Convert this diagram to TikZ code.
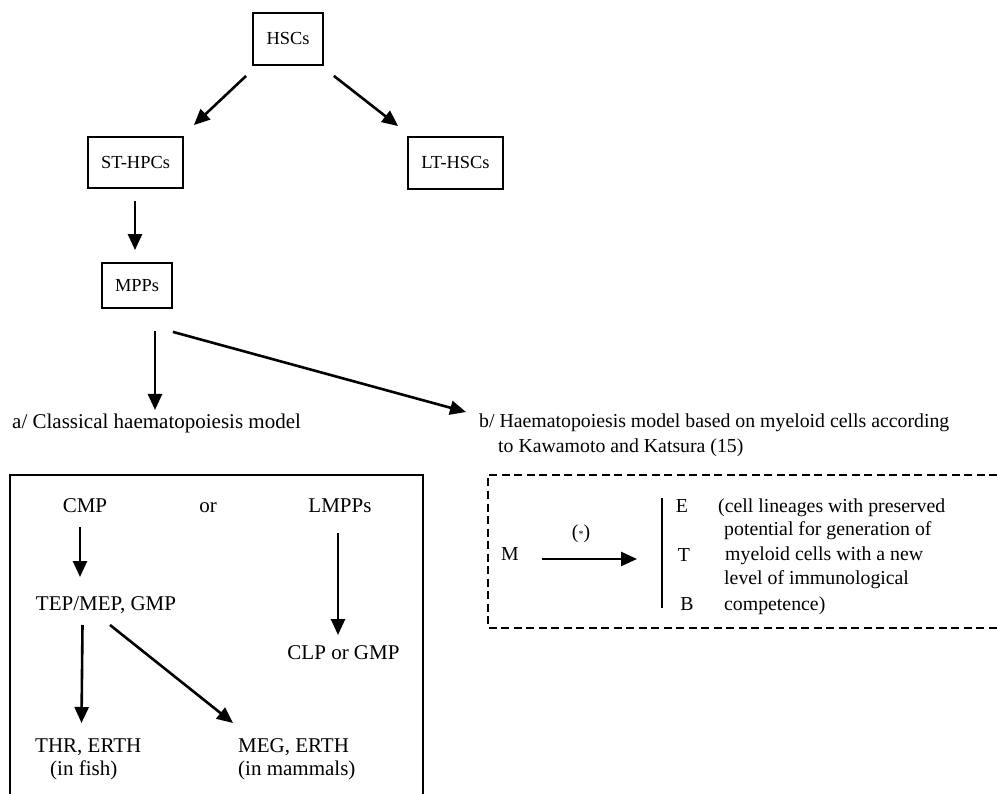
\documentclass[tikz,border=0pt]{standalone}
\usepackage{fontspec}
\setmainfont{Liberation Serif}
\usetikzlibrary{arrows.meta,calc}
\tikzset{
  box/.style={draw, line width=1.8pt, inner sep=0pt, font=\fontsize{18.4}{22}\selectfont},
  arr/.style={line width=2.6pt, -{Triangle[length=16pt,width=14pt]}},
  atext/.style={inner sep=0pt, font=\fontsize{21}{25}\selectfont},
  btext/.style={inner sep=0pt, font=\fontsize{19.8}{24}\selectfont},
}
\begin{document}
\begin{tikzpicture}[x=1pt,y=-1pt]
\useasboundingbox (0,0) rectangle (997,794);
% top boxes
\node[box, minimum width=70pt, minimum height=52pt] (hsc) at (288,39) {HSCs};
\node[box, minimum width=95pt, minimum height=51pt] (st) at (135.5,162.5) {ST-HPCs};
\node[box, minimum width=95pt, minimum height=52pt] (lt) at (455.5,163) {LT-HSCs};
\node[box, minimum width=70pt, minimum height=45pt] (mpp) at (137,285.5) {MPPs};
\draw[arr] ($(hsc.south west)+(-6,10)$) -- ($(st.north east)+(10,-11)$);
\draw[arr] ($(hsc.south east)+(10,10)$) -- ($(lt.north west)+(-9,-10)$);
\draw[arr] ($(st.south)+(-0.5,12)$) -- ($(mpp.north)+(-2,-12)$);
% section titles
\node[atext, anchor=base west] (atitle) at (12,429) {a/ Classical haematopoiesis model};
\node[btext, anchor=base west] (btitle) at (479,428) {b/ Haematopoiesis model based on myeloid cells according};
\node[btext, anchor=base west] (btitle2) at (498,453) {to Kawamoto and Katsura (15)};
\draw[arr] ($(mpp.south)+(18,22)$) -- (155,410) coordinate (atip);
\draw[arr] ($(mpp.south east)+(0,23)$) -- (466,412) coordinate (btip);
% box a
\draw[line width=1.8pt] (10,800) -- (10,475) -- (423,475) -- (423,800);
\node[atext, anchor=base] (cmp) at (85,512) {CMP};
\node[atext, anchor=base] (or) at (208,512) {or};
\node[atext, anchor=base] (lmpp) at (340,512) {LMPPs};
\node[atext, anchor=base] (tep) at (106,610) {TEP/MEP, GMP};
\node[atext, anchor=base] (clp) at (343.5,659) {CLP or GMP};
\node[atext, anchor=base west] (thr) at (35,752) {THR, ERTH};
\node[atext, anchor=base west] (thr2) at (50,775) {(in fish)};
\node[atext, anchor=base west] (meg) at (238,752) {MEG, ERTH};
\node[atext, anchor=base west] (meg2) at (238,775) {(in mammals)};
\draw[arr] (80,527) coordinate (c1) -- (80,577) coordinate (c2);
\draw[arr] (82.5,625) coordinate (t1) -- (81.5,723) coordinate (t2);
\draw[arr] (110,625) coordinate (t3) -- (233,723) coordinate (t4);
\draw[arr] (338,533) coordinate (l1) -- (338,635) coordinate (l2);
% box b
\draw[line width=1.5pt, dash pattern=on 8pt off 4.5pt] (997,475) -- (488,475) -- (488,628) -- (997,628);
\node[btext, anchor=base] (m) at (510,560) {M};
\node[btext, anchor=base] (star) at (581,538) {(\raisebox{1pt}{\fontsize{10}{10}\selectfont *})};
\draw[arr] (542,559) coordinate (m1) -- (637,559) coordinate (m2);
\draw[line width=2pt] (662,498) coordinate (v1) -- (662,608) coordinate (v2);
\node[btext, anchor=base] (e) at (682,512) {E};
\node[btext, anchor=base] (t) at (684,561) {T};
\node[btext, anchor=base] (b) at (687,610) {B};
\node[btext, anchor=base west] (d1) at (718,512) {(cell lineages with preserved};
\node[btext, anchor=base west] (d2) at (724,536) {potential for generation of};
\node[btext, anchor=base west] (d3) at (725,560) {myeloid cells with a new};
\node[btext, anchor=base west] (d4) at (724,584) {level of immunological};
\node[btext, anchor=base west] (d5) at (724,610) {competence)};
\end{tikzpicture}
\end{document}
